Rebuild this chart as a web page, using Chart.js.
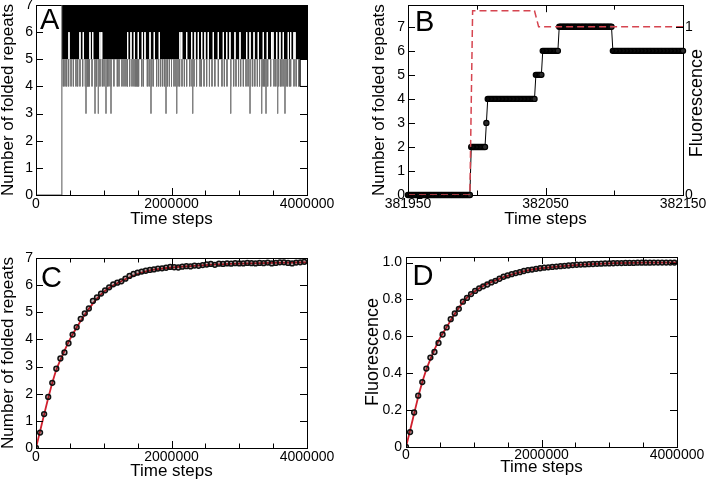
<!DOCTYPE html>
<html>
<head>
<meta charset="utf-8">
<script src="https://cdn.jsdelivr.net/npm/chart.js@4.4.1/dist/chart.umd.min.js"></script>
<style>
  html, body { margin: 0; padding: 0; background: #fff; }
  #page { position: relative; width: 708px; height: 481px; overflow: hidden; }
  .panel { position: absolute; }
</style>
</head>
<body>
<div id="page">
  <div class="panel" style="left:0;top:0;width:354px;height:240px"><canvas id="chartA"></canvas></div>
  <div class="panel" style="left:354px;top:0;width:354px;height:240px"><canvas id="chartB"></canvas></div>
  <div class="panel" style="left:0;top:240px;width:354px;height:241px"><canvas id="chartC"></canvas></div>
  <div class="panel" style="left:354px;top:240px;width:354px;height:241px"><canvas id="chartD"></canvas></div>
</div>
<script>
// ---- panel A: one long trajectory (time steps, folded repeats) ----
var aStartTimes = [0, 382000, 382000];
var aStartValues = [0, 0, 7];
var aBandTimes = [382000, 4000000];   // trace keeps flickering between 5 and 7
var aBandTop = 7;
var aBandBottom = 5;
// moments where the trace stayed above 6 (white lines in the 5-6 band)
var aGapTimes = [487000, 649000, 698000, 797000, 837000, 945000, 970000, 1353000, 1402000, 1451000,
  1510000, 1569000, 1609000, 1683000, 1746000, 1820000, 2125000, 2151000, 2224000, 2298000,
  2347000, 2396000, 2446000, 2494000, 2543000, 2617000, 2691000, 2765000, 2815000, 2863000,
  2937000, 3011000, 3110000, 3159000, 3218000, 3281000, 3355000, 3414000, 3479000, 3498000,
  3553000, 3601000, 3650000, 3724000, 3759000, 3808000, 3823000];
// dips down to 4 folded repeats
var aDip4Times = [403000, 428000, 453000, 482000, 517000, 551000, 590000, 615000, 649000, 689000,
  728000, 743000, 758000, 772000, 787000, 827000, 871000, 895000, 925000, 945000,
  979000, 1004000, 1053000, 1077000, 1107000, 1150000, 1200000, 1225000, 1269000, 1299000,
  1328000, 1350000, 1383000, 1417000, 1446000, 1466000, 1486000, 1501000, 1515000, 1560000,
  1584000, 1643000, 1670000, 1707000, 1730000, 1781000, 1810000, 1840000, 1870000, 1899000,
  1938000, 1968000, 2000000, 2037000, 2066000, 2096000, 2120000, 2155000, 2190000, 2224000,
  2270000, 2303000, 2332000, 2370000, 2421000, 2440000, 2480000, 2519000, 2560000, 2598000,
  2640000, 2691000, 2745000, 2780000, 2819000, 2873000, 2918000, 2952000, 2990000, 3021000,
  3060000, 3100000, 3130000, 3168000, 3198000, 3230000, 3267000, 3300000, 3336000, 3355000,
  3375000, 3395000, 3420000, 3464000, 3513000, 3540000, 3582000, 3611000, 3631000, 3660000,
  3690000, 3710000, 3740000, 3759000, 3808000, 3840000, 3877000];
// dips down to 3 folded repeats
var aDip3Times = [738000, 871000, 920000, 1033000, 1107000, 1697000, 1919000, 2077000, 2313000,
  2874000, 3159000, 3331000, 3395000, 3567000, 3675000];
var aEndTimes = [3897000, 3897000, 4000000];
var aEndValues = [5, 4, 4];

// ---- panel B: zoom on the folding event ----
var bRunStarts = [381950, 381996, 382007, 382008, 382043, 382048, 382060, 382099];
var bRunLevels = [0, 2, 3, 4, 5, 6, 7, 6];
var bLastStep = 382150;
var bFluoTimes = [381950, 381995, 381997, 382042, 382045, 382150];
var bFluoValues = [0, 0, 1.095, 1.095, 1.0, 1.0];
var bXLabels = [381950, 382050, 382150];

// ---- panels C and D: averages over trajectories ----
var avgTimes = [0, 60000, 120000, 180000, 240000, 300000, 360000, 420000, 480000, 540000,
  600000, 660000, 720000, 780000, 840000, 900000, 960000, 1020000, 1080000, 1140000,
  1200000, 1260000, 1320000, 1380000, 1440000, 1500000, 1560000, 1620000, 1680000, 1740000,
  1800000, 1860000, 1920000, 1980000, 2040000, 2100000, 2160000, 2220000, 2280000, 2340000,
  2400000, 2460000, 2520000, 2580000, 2640000, 2700000, 2760000, 2820000, 2880000, 2940000,
  3000000, 3060000, 3120000, 3180000, 3240000, 3300000, 3360000, 3420000, 3480000, 3540000,
  3600000, 3660000, 3720000, 3780000, 3840000, 3900000, 3960000];
var cRepeats = [0, 0.57, 1.25, 1.88, 2.40, 2.92, 3.30, 3.52, 3.86, 4.18,
  4.45, 4.76, 4.96, 5.14, 5.42, 5.55, 5.69, 5.81, 5.92, 6.03,
  6.09, 6.14, 6.24, 6.34, 6.41, 6.46, 6.50, 6.53, 6.56, 6.58,
  6.61, 6.62, 6.64, 6.67, 6.66, 6.65, 6.68, 6.70, 6.69, 6.72,
  6.71, 6.74, 6.76, 6.78, 6.75, 6.79, 6.78, 6.80, 6.79, 6.81,
  6.80, 6.80, 6.82, 6.81, 6.80, 6.82, 6.81, 6.83, 6.80, 6.82,
  6.84, 6.84, 6.82, 6.80, 6.83, 6.84, 6.86];
var dFluo = [0, 0.081, 0.187, 0.278, 0.352, 0.425, 0.485, 0.515, 0.564, 0.610,
  0.648, 0.693, 0.724, 0.749, 0.788, 0.808, 0.829, 0.846, 0.860, 0.871,
  0.881, 0.892, 0.901, 0.912, 0.923, 0.930, 0.937, 0.943, 0.948, 0.954,
  0.959, 0.962, 0.966, 0.969, 0.972, 0.974, 0.976, 0.978, 0.980, 0.982,
  0.984, 0.986, 0.988, 0.989, 0.990, 0.991, 0.992, 0.993, 0.994, 0.995,
  0.995, 0.996, 0.997, 0.997, 0.998, 0.998, 0.998, 0.999, 0.999, 0.999,
  0.999, 1.000, 1.000, 1.000, 1.000, 1.000, 1.000];
var fitTimes = [0, 100000, 200000, 300000, 400000, 500000, 600000, 700000, 800000, 900000,
  1000000, 1100000, 1200000, 1300000, 1400000, 1500000, 1600000, 1700000, 1800000, 2000000,
  2200000, 2500000, 3000000, 3500000, 4000000];
var cFit = [0, 1.03, 2.03, 2.88, 3.47, 4.00, 4.44, 4.84, 5.19, 5.50,
  5.75, 5.93, 6.07, 6.20, 6.31, 6.41, 6.49, 6.55, 6.59, 6.65,
  6.69, 6.74, 6.79, 6.82, 6.84];
var dFit = [0, 0.15, 0.30, 0.42, 0.51, 0.59, 0.65, 0.71, 0.765, 0.81,
  0.84, 0.865, 0.885, 0.90, 0.915, 0.928, 0.94, 0.95, 0.958, 0.969,
  0.977, 0.986, 0.995, 0.999, 1.0];
var longXLabels = [0, 2000000, 4000000];
var dYLabels = ['0', '0.2', '0.4', '0.6', '0.8', '1.0'];

var FONT = '"Liberation Sans", Arial, Helvetica, sans-serif';
var tickFont = { family: FONT, size: 14 };
Chart.defaults.font.family = FONT;
Chart.defaults.color = '#000';

function pairs(xs, ys) {
  return xs.map(function (x, i) { return { x: x, y: ys[i] }; });
}
// vertical strokes at given times, broken apart by nulls
function strokes(times, from, to) {
  var pts = [];
  times.forEach(function (t) {
    pts.push({ x: t, y: from }, { x: t, y: to }, { x: t, y: null });
  });
  return pts;
}
function expandRuns(starts, levels, last) {
  var pts = [];
  for (var i = 0; i < starts.length; i++) {
    var stop = i + 1 < starts.length ? starts[i + 1] : last + 1;
    for (var t = starts[i]; t < stop; t++) pts.push({ x: t, y: levels[i] });
  }
  return pts;
}

var noGrid = { display: false, drawTicks: false };
function frameBorder() {
  return { display: true, color: '#000', width: 1 };
}
function fixedWidth(w) {
  return function (s) { s.width = w; s.paddingTop = 0; s.paddingBottom = 0; };
}
function fixedHeight(h) {
  return function (s) { s.height = h; s.paddingLeft = 0; s.paddingRight = 0; };
}
function bottomAxis(min, max, step, labels, pad, titlePad, height) {
  return {
    type: 'linear', position: 'bottom', min: min, max: max,
    ticks: {
      stepSize: step, autoSkip: false, maxRotation: 0, includeBounds: false,
      padding: pad, font: tickFont, color: '#000',
      callback: function (v) { return labels.indexOf(v) >= 0 ? String(v) : ''; }
    },
    grid: noGrid, border: frameBorder(),
    title: { display: true, text: 'Time steps', color: '#000',
      font: { family: FONT, size: 17, lineHeight: 1 }, padding: { top: 0, bottom: titlePad } },
    afterFit: fixedHeight(height)
  };
}
function topAxis(min, max, step) {
  return {
    type: 'linear', position: 'top', min: min, max: max,
    ticks: { display: false, stepSize: step, autoSkip: false, includeBounds: false },
    grid: noGrid, border: frameBorder(), afterFit: fixedHeight(0)
  };
}
function leftAxis(min, max, step, title, titleSize, pad, width, labels) {
  return {
    type: 'linear', position: 'left', min: min, max: max,
    ticks: {
      stepSize: step, autoSkip: false, includeBounds: false, padding: pad, font: tickFont, color: '#000',
      callback: function (v, i) { return labels ? labels[i] : String(v); }
    },
    grid: noGrid, border: frameBorder(),
    title: { display: true, text: title, color: '#000',
      font: { family: FONT, size: titleSize, lineHeight: 1 }, padding: { top: 0, bottom: 0 } },
    afterFit: fixedWidth(width)
  };
}
function rightAxis(min, max, step, width, showLabels, pad) {
  return {
    type: 'linear', position: 'right', min: min, max: max,
    ticks: { display: showLabels, stepSize: step, autoSkip: false, includeBounds: false,
      padding: pad || 0, font: tickFont, color: '#000' },
    grid: noGrid, border: frameBorder(), afterFit: fixedWidth(width)
  };
}

// panel letter, optional right-hand title and inward tick marks on all four sides
function makeDecor(letter, dx, dy, majorX, rightTitle) {
  return {
    id: 'decor',
    afterDraw: function (chart) {
      var ctx = chart.ctx, area = chart.chartArea;
      ctx.save();
      ctx.strokeStyle = '#000';
      ctx.lineWidth = 1;
      ctx.beginPath();
      ['x', 'x2', 'y', 'y2'].forEach(function (id) {
        var s = chart.scales[id];
        if (!s) return;
        var major = id.charAt(0) === 'x' ? majorX : null;
        s.getTicks().forEach(function (tick) {
          var len = (!major || major.indexOf(tick.value) >= 0) ? 7 : 4.5;
          var p = Math.round(s.getPixelForValue(tick.value)) + 0.5;
          if (id === 'x') { ctx.moveTo(p, area.bottom); ctx.lineTo(p, area.bottom - len); }
          else if (id === 'x2') { ctx.moveTo(p, area.top); ctx.lineTo(p, area.top + len); }
          else if (id === 'y') { ctx.moveTo(area.left, p); ctx.lineTo(area.left + len, p); }
          else { ctx.moveTo(area.right, p); ctx.lineTo(area.right - len, p); }
        });
      });
      ctx.stroke();

      ctx.fillStyle = '#000';
      ctx.font = '29px ' + FONT;
      ctx.textAlign = 'left';
      ctx.textBaseline = 'alphabetic';
      ctx.fillText(letter, area.left + dx, area.top + dy);
      if (rightTitle) {
        ctx.font = '18px ' + FONT;
        ctx.translate(area.right + 14, (area.top + area.bottom) / 2 + 3);
        ctx.rotate(-Math.PI / 2);
        ctx.textAlign = 'center';
        ctx.textBaseline = 'middle';
        ctx.fillText(rightTitle, 0, 0);
      }
      ctx.restore();
    }
  };
}

function baseOptions(padding, scales) {
  return {
    responsive: true, maintainAspectRatio: false, animation: false, devicePixelRatio: 1,
    layout: { padding: padding },
    plugins: { legend: { display: false }, tooltip: { enabled: false } },
    elements: { point: { radius: 0 }, line: { tension: 0 } },
    scales: scales
  };
}

// ---- A ----
new Chart(document.getElementById('chartA'), {
  type: 'line',
  data: {
    datasets: [
      { data: pairs(aStartTimes, aStartValues), borderColor: '#555', borderWidth: 1, order: 0 },
      { data: pairs(aEndTimes, aEndValues), borderColor: '#333', borderWidth: 1, order: 0 },
      { data: strokes(aDip3Times, 5, 3), borderColor: '#808080', borderWidth: 1, spanGaps: false, order: 1 },
      { data: strokes(aDip4Times, 5, 4), borderColor: '#707070', borderWidth: 1, spanGaps: false, order: 2 },
      { data: strokes(aGapTimes, 6, 5), borderColor: '#ffffff', borderWidth: 1, spanGaps: false, order: 3 },
      { data: pairs(aBandTimes, [aBandTop, aBandTop]), borderColor: '#000', borderWidth: 1,
        backgroundColor: '#000', fill: { value: aBandBottom }, order: 4 }
    ]
  },
  options: baseOptions({ left: 0, top: 5, right: 47, bottom: 0 }, {
    x: bottomAxis(0, 4000000, 500000, longXLabels, 1, 12.5, 45),
    x2: topAxis(0, 4000000, 500000),
    y: leftAxis(0, 7, 1, 'Number of folded repeats', 17, 3, 36),
    y2: rightAxis(0, 7, 1, 0, false)
  }),
  plugins: [makeDecor('A', 4, 24, longXLabels)]
});

// ---- B ----
new Chart(document.getElementById('chartB'), {
  type: 'line',
  data: {
    datasets: [
      { data: pairs(bFluoTimes, bFluoValues), yAxisID: 'y2', borderColor: '#d64550', borderWidth: 1.5,
        borderDash: [7, 4], order: 0 },
      { data: expandRuns(bRunStarts, bRunLevels, bLastStep), yAxisID: 'y', borderColor: '#000', borderWidth: 1,
        pointRadius: 2.6, pointBorderWidth: 1.2, pointBorderColor: '#000', pointBackgroundColor: '#2a2a2a',
        clip: 6, order: 1 }
    ]
  },
  options: baseOptions({ left: 17, top: 4, right: 0, bottom: 0 }, {
    x: bottomAxis(381950, 382150, 50, bXLabels, 1, 12, 45),
    x2: topAxis(381950, 382150, 50),
    y: leftAxis(0, 7.9, 1, 'Number of folded repeats', 17, 3, 37),
    y2: rightAxis(0, 1.128, 1, 25, true, 2)
  }),
  plugins: [makeDecor('B', 7, 26, bXLabels, 'Fluorescence')]
});

// ---- C ----
new Chart(document.getElementById('chartC'), {
  type: 'line',
  data: {
    datasets: [
      { data: pairs(avgTimes, cRepeats), showLine: false, pointRadius: 2.4, pointBorderWidth: 1.5,
        pointBorderColor: '#111', pointBackgroundColor: 'rgba(60,0,0,0.3)', order: 0 },
      { data: pairs(fitTimes, cFit), borderColor: '#d0202e', borderWidth: 1.8,
        cubicInterpolationMode: 'monotone', order: 1 }
    ]
  },
  options: baseOptions({ left: 0, top: 18, right: 47, bottom: 0 }, {
    x: bottomAxis(0, 4000000, 500000, longXLabels, 1, 1.5, 33),
    x2: topAxis(0, 4000000, 500000),
    y: leftAxis(0, 7, 1, 'Number of folded repeats', 17, 3, 36),
    y2: rightAxis(0, 7, 1, 0, false)
  }),
  plugins: [makeDecor('C', 5, 28.5, longXLabels)]
});

// ---- D ----
new Chart(document.getElementById('chartD'), {
  type: 'line',
  data: {
    datasets: [
      { data: pairs(avgTimes, dFluo), showLine: false, pointRadius: 2.4, pointBorderWidth: 1.5,
        pointBorderColor: '#111', pointBackgroundColor: 'rgba(60,0,0,0.3)', order: 0 },
      { data: pairs(fitTimes, dFit), borderColor: '#d0202e', borderWidth: 1.8,
        cubicInterpolationMode: 'monotone', order: 1 }
    ]
  },
  options: baseOptions({ left: 10, top: 17, right: 31, bottom: 0 }, {
    x: bottomAxis(0, 4000000, 500000, longXLabels, 0, 5, 34),
    x2: topAxis(0, 4000000, 500000),
    y: leftAxis(0, 1.03, 0.2, 'Fluorescence', 18, 4, 42, dYLabels),
    y2: rightAxis(0, 1.03, 0.2, 0, false)
  }),
  plugins: [makeDecor('D', 6.5, 28, longXLabels)]
});
</script>
</body>
</html>
